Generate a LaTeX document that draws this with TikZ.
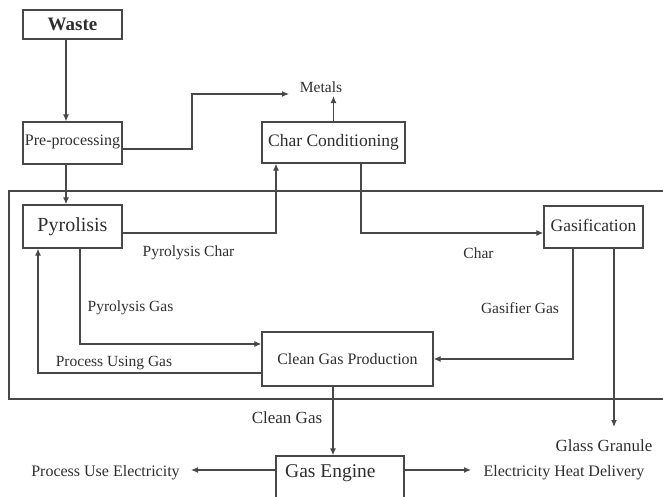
\documentclass[tikz,border=0pt]{standalone}
\usepackage{fontspec}
\setmainfont{Liberation Serif}
\usetikzlibrary{arrows.meta}
\definecolor{ink}{HTML}{484848}
\definecolor{txt}{HTML}{2E2E2E}
\begin{document}
\begin{tikzpicture}[x=1pt,y=-1pt,
  box/.style={draw=ink,line width=1.3pt,rectangle,inner sep=0pt,text=txt},
  lbl/.style={inner sep=1pt,text=txt,font=\fontsize{15.5}{17}\selectfont},
  arr/.style={draw=ink,line width=1.2pt,-{Latex[length=7pt,width=6pt]}},
  line/.style={draw=ink,line width=1.2pt}]
\useasboundingbox (0,0) rectangle (663,496);

% process enclosure
\draw[line,line width=1.3pt] (665,191) -- (9,191) -- (9,399) -- (665,399);

% boxes
\node[box,minimum width=99pt,minimum height=29pt,font=\bfseries\fontsize{19}{21}\selectfont] (waste) at (72.5,24.5) {Waste};
\node[box,minimum width=99pt,minimum height=42pt,font=\fontsize{16}{18}\selectfont] (pre) at (72.5,143) {\raisebox{5pt}{Pre-processing}};
\node[box,minimum width=99pt,minimum height=43pt,font=\fontsize{20}{22}\selectfont] (pyro) at (72.5,226.5) {\raisebox{4pt}{Pyrolisis}};
\node[box,minimum width=143pt,minimum height=41pt,font=\fontsize{17.5}{19}\selectfont] (char) at (333.5,142.5) {\raisebox{4pt}{Char Conditioning}};
\node[box,minimum width=99pt,minimum height=42pt,font=\fontsize{17.5}{19}\selectfont] (gasif) at (593.5,227) {\raisebox{4pt}{Gasification}};
\node[box,minimum width=171pt,minimum height=54pt,font=\fontsize{16}{18}\selectfont] (clean) at (347.5,359) {\raisebox{-3pt}{Clean Gas Production}};
\node[box,minimum width=128pt,minimum height=64pt] (engine) at (340,488) {};
\node[lbl,anchor=west,font=\fontsize{19.5}{21}\selectfont] (enginetxt) at (284,473) {Gas Engine};

% labels
\node[lbl] (metals) at (321,87) {Metals};
\node[lbl] (pchar) at (188.5,253) {Pyrolysis Char};
\node[lbl] (charlbl) at (478.5,253) {Char};
\node[lbl] (pgas) at (130.5,308) {Pyrolysis Gas};
\node[lbl] (ggas) at (520,308) {Gasifier Gas};
\node[lbl] (pusing) at (114,363) {Process Using Gas};
\node[lbl,font=\fontsize{17}{19}\selectfont] (cgas) at (287,418) {Clean Gas};
\node[lbl,font=\fontsize{17}{19}\selectfont] (glass) at (604,446) {Glass Granule};
\node[lbl,font=\fontsize{16}{18}\selectfont] (elec) at (564,473) {Electricity Heat Delivery};
\node[lbl,font=\fontsize{16}{18}\selectfont] (procel) at (105.5,473) {Process Use Electricity};

\coordinate (metalsin) at (289,94);
\coordinate (metalsup) at (333.5,96);
\coordinate (glassin) at (614,427);
\coordinate (elecin) at (471,470);
\coordinate (procelin) at (191,470);

% connectors
\draw[arr] ([xshift=-6.5pt]waste.south) -- ([xshift=-6.5pt]pre.north);
\draw[arr] ([xshift=-6.5pt]pre.south) -- ([xshift=-6.5pt]pyro.north);
\draw[arr] ([yshift=-6pt]pre.east) -- (192,149) -- (192,94) -- (metalsin);
\draw[arr] (char.north) -- (metalsup);
\draw[arr] ([yshift=-6.5pt]pyro.east) -| ([xshift=-57.5pt]char.south);
\draw[arr] ([xshift=27.5pt]char.south) |- ([yshift=-6pt]gasif.west);
\draw[arr] ([xshift=-20.5pt]gasif.south) |- (clean.east);
\draw[arr] ([xshift=20.5pt]gasif.south) -- (glassin);
\draw[arr] ([xshift=7.5pt]pyro.south) |- ([yshift=15pt]clean.west);
\draw[arr] ([yshift=-14pt]clean.west) -| ([xshift=-34.5pt]pyro.south);
\draw[arr] ([xshift=-14.5pt]clean.south) -- ([xshift=-14.5pt]clean.south |- engine.north);
\draw[arr] (engine.east |- elecin) -- (elecin);
\draw[arr] (engine.west |- procelin) -- (procelin);
\end{tikzpicture}
\end{document}
